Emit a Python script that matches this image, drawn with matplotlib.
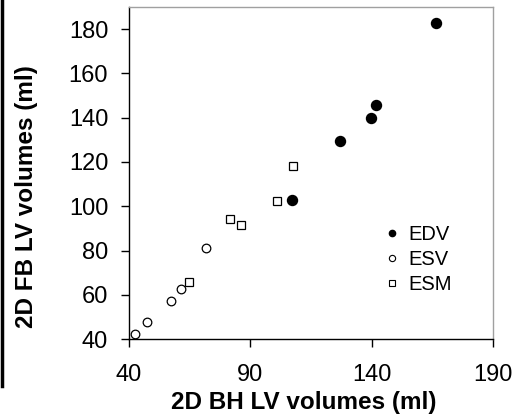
import matplotlib
matplotlib.use("Agg")
import matplotlib.pyplot as plt
from matplotlib.lines import Line2D

plt.rcParams['font.family'] = ['Liberation Sans', 'DejaVu Sans']

# end-diastolic volume
edv_bh = [166.5, 141.9, 139.9, 127.0, 107.2]
edv_fb = [182.7, 145.6, 139.7, 129.3, 102.7]
# end-systolic volume
esv_bh = [71.6, 61.3, 57.2, 47.4, 42.3]
esv_fb = [81.1, 62.5, 57.4, 47.6, 42.4]
# ESM
esm_bh = [107.6, 101.0, 81.6, 86.0, 64.7]
esm_fb = [118.1, 102.5, 94.4, 91.7, 66.0]

xticks = [40, 90, 140, 190]
yticks = [40, 60, 80, 100, 120, 140, 160, 180]

fig = plt.figure(figsize=(5.3, 4.15), dpi=100)
ax = fig.add_axes([0.2434, 0.183, 0.687, 0.800])

ax.plot(edv_bh, edv_fb, 'o', ms=7.2, mfc='black', mec='black', clip_on=False)
ax.plot(esv_bh, esv_fb, 'o', ms=6.2, mfc='white', mec='black', mew=0.9, clip_on=False)
ax.plot(esm_bh, esm_fb, 's', ms=5.8, mfc='white', mec='black', mew=0.9, clip_on=False)

ax.set_xlim(40, 190)
ax.set_ylim(40, 190)
ax.set_xticks(xticks)
ax.set_yticks(yticks)
ax.tick_params(direction='out', length=6, width=1, labelsize=17, color='black')
ax.tick_params(axis='y', pad=9)
ax.tick_params(axis='x', pad=12)

for s in ['left', 'bottom']:
    ax.spines[s].set_color('black')
    ax.spines[s].set_linewidth(1.0)
for s in ['top', 'right']:
    ax.spines[s].set_color('#a0a0a0')
    ax.spines[s].set_linewidth(1.0)

ax.set_xlabel('2D BH LV volumes (ml)', fontsize=17.5, fontweight='bold', labelpad=0)
ax.set_ylabel('2D FB LV volumes (ml)', fontsize=17.5, fontweight='bold')
ax.xaxis.set_label_coords(0.481, -0.155)
ax.yaxis.set_label_coords(-0.25, 0.43)

handles = [
    Line2D([], [], ls='none', marker='o', ms=4.5, mfc='black', mec='black'),
    Line2D([], [], ls='none', marker='o', ms=4.5, mfc='white', mec='black', mew=0.8),
    Line2D([], [], ls='none', marker='s', ms=4.2, mfc='white', mec='black', mew=0.8),
]
ax.legend(handles, ['EDV', 'ESV', 'ESM'], loc='center left',
          bbox_to_anchor=(0.706, 0.24), frameon=False, fontsize=14.5,
          handlelength=0.6, handletextpad=0.5, borderpad=0, borderaxespad=0,
          labelspacing=0.3)

# crop edge line seen at the far left of the original
fig.add_artist(Line2D([0.003, 0.003], [0.07, 1.0], color='black', lw=2.5,
                      transform=fig.transFigure))

fig.savefig('out.png', dpi=100)
